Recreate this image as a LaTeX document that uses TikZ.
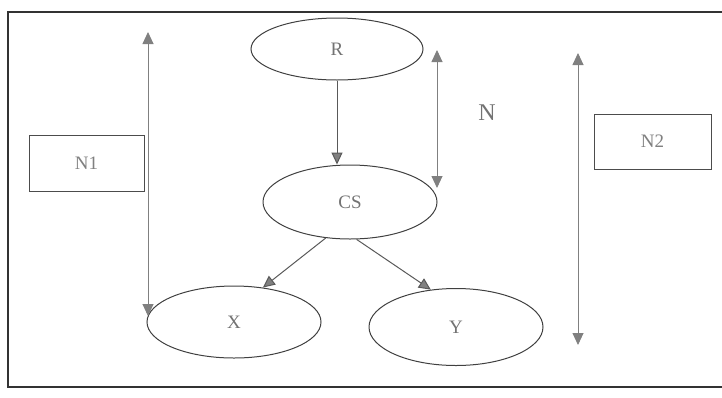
\documentclass[tikz,border=0pt]{standalone}
\usepackage{fontspec}
\setmainfont{Liberation Serif}
\usetikzlibrary{arrows.meta,shapes.geometric}
\begin{document}
\begin{tikzpicture}[x=1pt,y=1pt,
  oval/.style={ellipse,draw=black!75,line width=1pt,inner sep=0pt,text=black!55,font=\fontsize{19}{19}\selectfont},
  labbox/.style={rectangle,draw=black!70,line width=1pt,inner sep=0pt,text=black!50,font=\fontsize{19}{19}\selectfont},
  tip/.style={-{Triangle[width=11pt,length=12pt,fill=black!50]}},
  dtip/.style={{Triangle[width=11pt,length=12pt,fill=black!50]}-{Triangle[width=11pt,length=12pt,fill=black!50]}},
  conn/.style={line width=1pt,color=black!65},
  span/.style={line width=0.9pt,color=black!50}]
\useasboundingbox (0,0) rectangle (722,-397);
\draw[black!80,line width=1.2pt] (722,-12) -- (8,-12) -- (8,-387) -- (722,-387);
\node[oval,minimum width=172pt,minimum height=62pt] (R) at (337,-49) {R};
\node[oval,minimum width=174pt,minimum height=74pt] (CS) at (350,-202) {CS};
\node[oval,minimum width=174pt,minimum height=72pt] (X) at (234,-322) {X};
\node[oval,minimum width=174pt,minimum height=77pt] (Y) at (456,-327) {Y};
\node[labbox,minimum width=115pt,minimum height=56pt] (N1) at (86.5,-163) {N1};
\node[labbox,minimum width=117pt,minimum height=55pt] (N2) at (652.5,-141.5) {N2};
\node[text=black!55,font=\fontsize{24}{24}\selectfont] (N) at (487,-113) {N};
\coordinate (l1) at (148,-32);
\coordinate (l2) at (148,-316);
\coordinate (m1) at (437,-50);
\coordinate (m2) at (437,-188);
\coordinate (r1) at (578,-53);
\coordinate (r2) at (578,-345);
\draw[conn,tip] (R.south) -- (R.south |- CS.north);
\draw[conn,tip] (CS.236) -- (X.50);
\draw[conn,tip] (CS.280) -- (Y.124);
\draw[span,dtip] (l1) -- (l2);
\draw[span,dtip] (m1) -- (m2);
\draw[span,dtip] (r1) -- (r2);
\end{tikzpicture}
\end{document}
